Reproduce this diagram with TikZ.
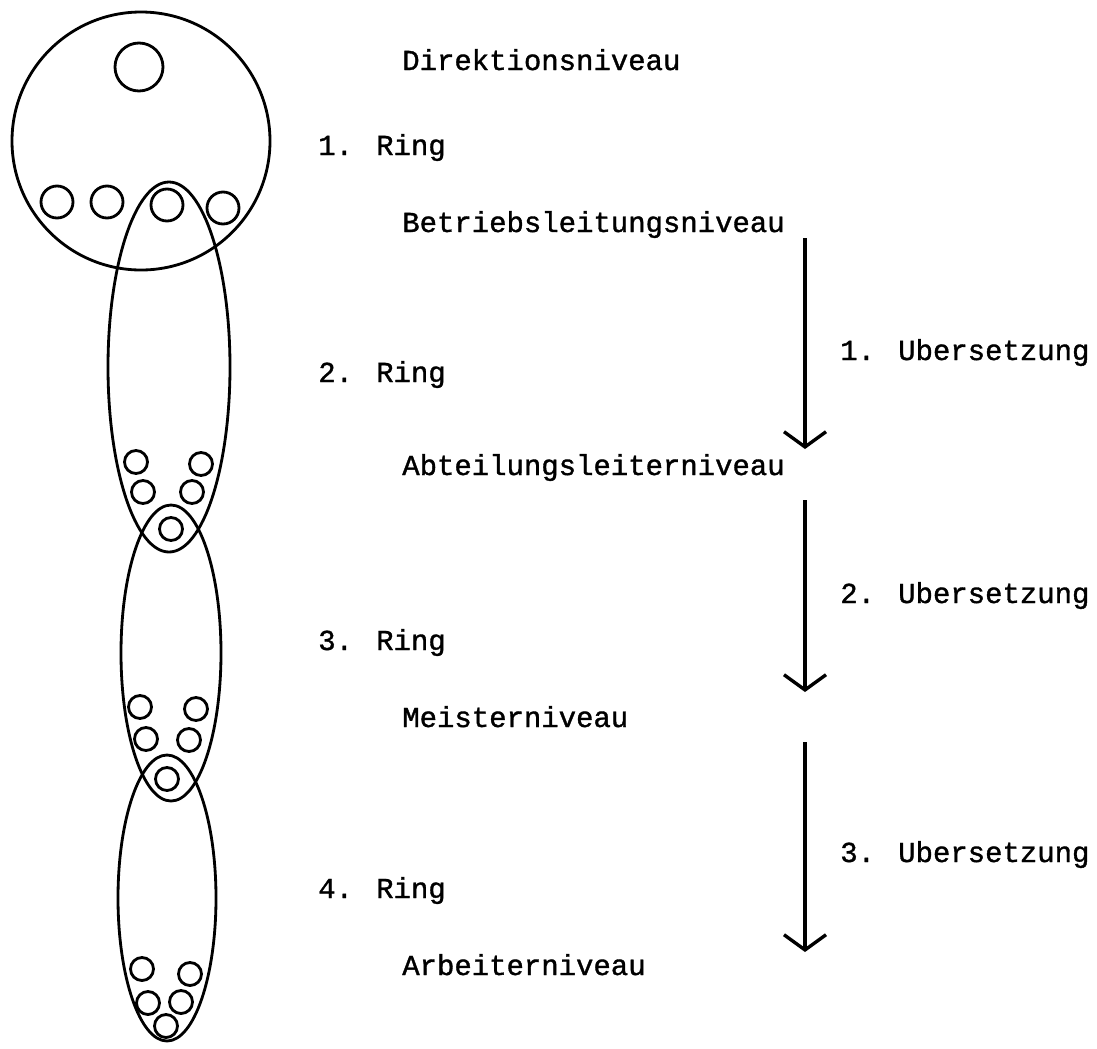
\documentclass[tikz,border=0pt]{standalone}
\usepackage{fontspec}
\setmainfont{Liberation Mono}[FakeBold=1.2]
\usetikzlibrary{arrows.meta}
\begin{document}
\begin{tikzpicture}[x=0.025cm,y=-0.025cm,
  lvl/.style={anchor=base west, inner sep=0pt, font=\fontsize{20.6}{24}\selectfont},
  ringline/.style={line width=2pt},
  down/.style={line width=2.4pt, -{Straight Barb[length=3.8mm, width=10.5mm, line width=2.4pt]}}]
\useasboundingbox (0,0) rectangle (1097,1048);
\draw[ringline] (141,141) circle [radius=129];
\draw[ringline] (139,67) circle [radius=24];
\foreach \cx/\cy in {57/202, 107/202, 167/205, 223/208}
  \draw[ringline] (\cx,\cy) circle [radius=16];
\draw[ringline] (169,367) ellipse [x radius=61, y radius=185];
\draw[ringline] (171,653) ellipse [x radius=50, y radius=148];
\draw[ringline] (167,898) ellipse [x radius=49, y radius=143];
\foreach \cx/\cy in {136/462, 201/464, 143/492, 192/492, 171/529,
                     140/707, 196/709, 146/739, 189/740, 167/779,
                     142/969, 190/974, 148/1003, 181/1002, 166/1026}
  \draw[ringline] (\cx,\cy) circle [radius=11.5];
\node[lvl] (direktion) at (402,70) {Direktionsniveau};
\node[lvl] (ring1) at (318,155) {1. Ring};
\node[lvl] (betrieb) at (402,232) {Betriebsleitungsniveau};
\node[lvl] (ring2) at (318,382) {2. Ring};
\node[lvl] (abteilung) at (402,475) {Abteilungsleiterniveau};
\node[lvl] (ring3) at (318,650) {3. Ring};
\node[lvl] (meister) at (402,727) {Meisterniveau};
\node[lvl] (ring4) at (318,898) {4. Ring};
\node[lvl] (arbeiter) at (402,975) {Arbeiterniveau};
\node[lvl] (ueb1) at (840,360) {1. Ubersetzung};
\node[lvl] (ueb2) at (840,603) {2. Ubersetzung};
\node[lvl] (ueb3) at (840,862) {3. Ubersetzung};
\coordinate (top1) at (805,238);
\coordinate (tip1) at (805,449);
\coordinate (top2) at (805,500);
\coordinate (tip2) at (805,692);
\coordinate (top3) at (805,742);
\coordinate (tip3) at (805,952);
\draw[down] (top1) -- (tip1);
\draw[down] (top2) -- (tip2);
\draw[down] (top3) -- (tip3);
\end{tikzpicture}
\end{document}
